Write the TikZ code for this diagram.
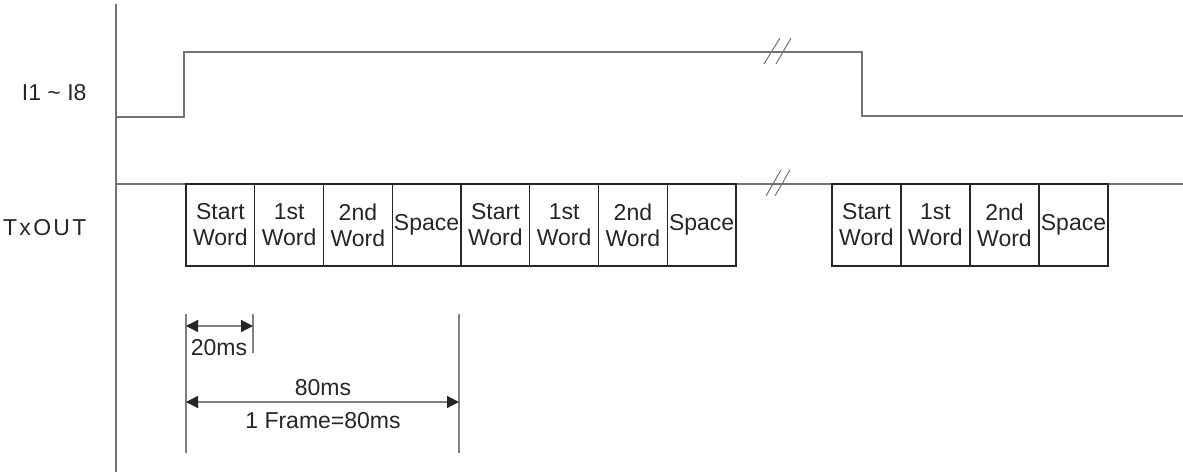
\documentclass[tikz,border=0pt]{standalone}
\usepackage{fontspec}
\setmainfont{Liberation Sans}
\usetikzlibrary{arrows.meta}

\tikzset{
  txt/.style={font=\fontsize{23}{26}\selectfont, text=black!85},
  wordbox/.style={txt, draw=black!85, line width=1.4pt, minimum width=68.75pt, minimum height=82pt, inner sep=0pt, align=center},
  sig/.style={draw=black!55, line width=1.4pt},
  dim/.style={draw=black!50, line width=1.2pt},
}

\begin{document}
\begin{tikzpicture}[x=1pt, y=-1pt, >={Triangle[length=12pt,width=12pt,color=black!85]}]
\useasboundingbox (0,0) rectangle (1183,473);
% Axis and signals:
\draw[sig] (116,4) -- (116,472);
\draw[sig] (116,117) -- (184,117) -- (184,52) -- (862,52) -- (862,116) -- (1183,116);
\draw[sig] (116,184) -- (1183,184);
\draw[sig, line width=1pt] (764,64) -- (780,38) (776,64) -- (791,38);
\draw[sig, line width=1pt] (766,196) -- (781,170) (775,196) -- (790,170);
\node[txt, anchor=east] (in) at (90,93) {I1 \textasciitilde{} I8};
\node[txt, anchor=east] (tx) at (90,228) {\addfontfeatures{LetterSpace=10}TxOUT};
% Frames:
\node[wordbox] (s1) at (220.4,225) {Start\\Word};
\node[wordbox] (w1) at (289.1,225) {1st\\Word};
\node[wordbox] (n1) at (357.9,225) {2nd\\Word};
\node[wordbox] (p1) at (426.6,225) {Space};
\node[wordbox] (s2) at (495.4,225) {Start\\Word};
\node[wordbox] (w2) at (564.1,225) {1st\\Word};
\node[wordbox] (n2) at (632.9,225) {2nd\\Word};
\node[wordbox] (p2) at (701.6,225) {Space};
\node[wordbox, minimum width=69pt] (s3) at (866.5,225) {Start\\Word};
\node[wordbox, minimum width=69pt] (w3) at (935.5,225) {1st\\Word};
\node[wordbox, minimum width=69pt] (n3) at (1004.5,225) {2nd\\Word};
\node[wordbox, minimum width=69pt] (p3) at (1073.5,225) {Space};
% Timing:
\coordinate (t0top) at (186,314);
\coordinate (t0bot) at (186,453);
\coordinate (t1top) at (253,314);
\coordinate (t1bot) at (253,353);
\coordinate (t4top) at (459,314);
\coordinate (t4bot) at (459,453);
\coordinate (a20l) at (186,326);
\coordinate (a20r) at (253,326);
\coordinate (a80l) at (186,402);
\coordinate (a80r) at (459,402);
\draw[dim] (t0top) -- (t0bot);
\draw[dim] (t1top) -- (t1bot);
\draw[dim] (t4top) -- (t4bot);
\draw[dim, <->] (a20l) -- (a20r);
\draw[dim, <->] (a80l) -- (a80r);
\node[txt] (l20) at (219,348) {20ms};
\node[txt] (l80) at (323,388) {80ms};
\node[txt] (lframe) at (323,421) {1 Frame=80ms};
\end{tikzpicture}
\end{document}
